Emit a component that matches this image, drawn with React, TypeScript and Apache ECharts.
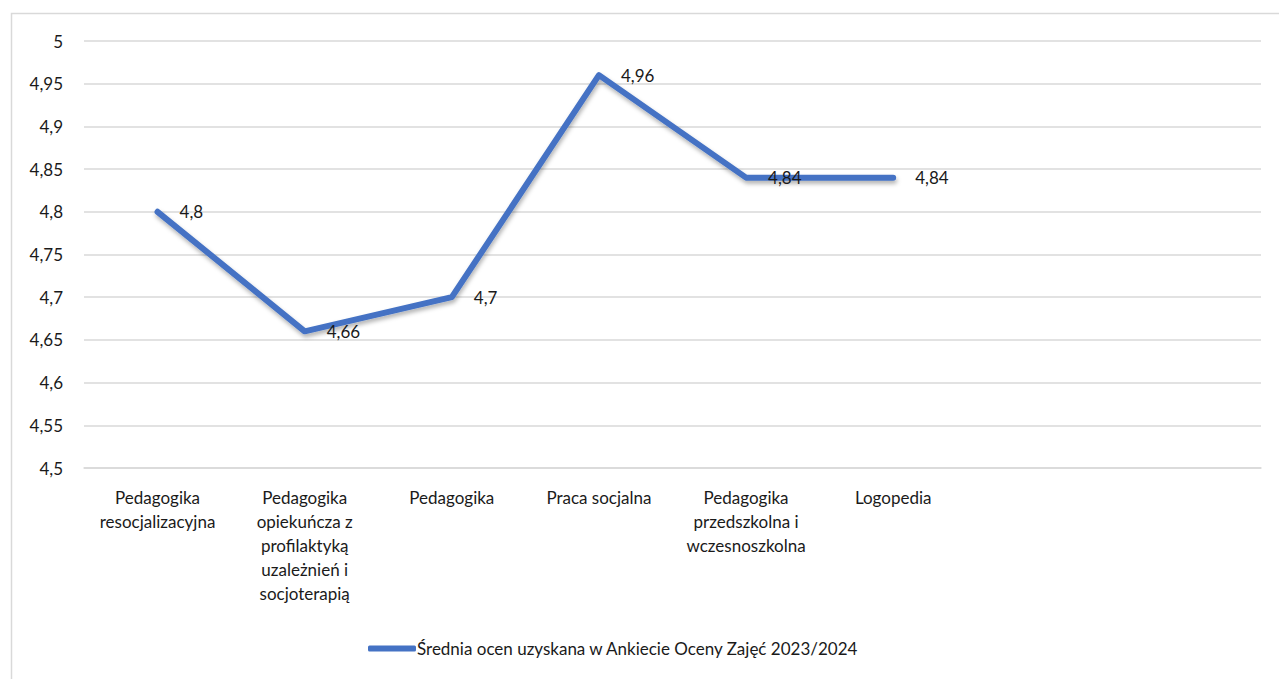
import React, { useEffect, useRef } from "react";
import * as echarts from "echarts";

const categories: string[] = [
  "Pedagogika\nresocjalizacyjna",
  "Pedagogika\nopiekuńcza z\nprofilaktyką\nuzależnień i\nsocjoterapią",
  "Pedagogika",
  "Praca socjalna",
  "Pedagogika\nprzedszkolna i\nwczesnoszkolna",
  "Logopedia",
  "",
  "",
];
const values: (number | null)[] = [4.8, 4.66, 4.7, 4.96, 4.84, 4.84, null, null];
const seriesName = "Średnia ocen uzyskana w Ankiecie Oceny Zajęć 2023/2024";
const yMin = 4.5;
const yMax = 5;
const yStep = 0.05;

const FONT = "Lato, 'Open Sans', sans-serif";
const TEXT = "#1a1a1a";
const FS = 17;

const comma = (v: number) => String(Math.round(v * 100) / 100).replace(".", ",");

export default function App() {
  const ref = useRef<HTMLDivElement>(null);
  useEffect(() => {
    if (!ref.current) return;
    const chart = echarts.init(ref.current, undefined, { renderer: "svg" });
    chart.setOption({
      animation: false,
      backgroundColor: "#ffffff",
      textStyle: { fontFamily: FONT },
      graphic: [
        {
          type: "rect",
          left: 9,
          top: 11,
          shape: { x: 0, y: 0, width: 1300, height: 700 },
          style: { fill: "none", stroke: "#d9d9d9", lineWidth: 1.5 },
          silent: true,
        },
      ],
      grid: { left: 84, right: 18, top: 41, bottom: 211, containLabel: false },
      xAxis: {
        type: "category",
        data: categories,
        boundaryGap: true,
        axisLine: { show: true, lineStyle: { color: "#d9d9d9", width: 1.5 } },
        axisTick: { show: false },
        axisLabel: {
          interval: 0,
          margin: 17,
          color: TEXT,
          fontFamily: FONT,
          fontSize: FS,
          lineHeight: 24,
          align: "center",
        },
        splitLine: { show: false },
      },
      yAxis: {
        type: "value",
        min: yMin,
        max: yMax,
        interval: yStep,
        axisLine: { show: false },
        axisTick: { show: false },
        axisLabel: {
          margin: 21,
          color: TEXT,
          fontFamily: FONT,
          fontSize: FS,
          formatter: (v: number) => comma(v),
        },
        splitLine: { lineStyle: { color: "#d9d9d9", width: 1.5 } },
      },
      legend: {
        show: true,
        bottom: 17,
        left: 363,
        icon: "roundRect",
        itemWidth: 48,
        itemHeight: 6,
        textStyle: { color: TEXT, fontFamily: FONT, fontSize: FS, padding: [0, 0, 0, -4] },
        data: [{ name: seriesName, itemStyle: { color: "#4472C4" } }],
      },
      series: [
        {
          name: seriesName,
          type: "line",
          data: values,
          symbol: "circle",
          symbolSize: 0.1,
          showSymbol: true,
          connectNulls: false,
          lineStyle: {
            color: "#4472C4",
            width: 6,
            cap: "round",
            join: "round",
            shadowColor: "rgba(0,0,0,0.3)",
            shadowBlur: 4,
            shadowOffsetY: 3,
            shadowOffsetX: 1,
          },
          itemStyle: { color: "#4472C4" },
          label: {
            show: true,
            position: "right",
            distance: 22,
            color: TEXT,
            fontFamily: FONT,
            fontSize: FS,
            formatter: (p: any) => comma(p.value),
          },
        },
      ],
    });
    return () => chart.dispose();
  }, []);
  return (
    <div
      ref={ref}
      style={{ position: "absolute", left: 0, top: 0, width: 1279, height: 679 }}
    />
  );
}
